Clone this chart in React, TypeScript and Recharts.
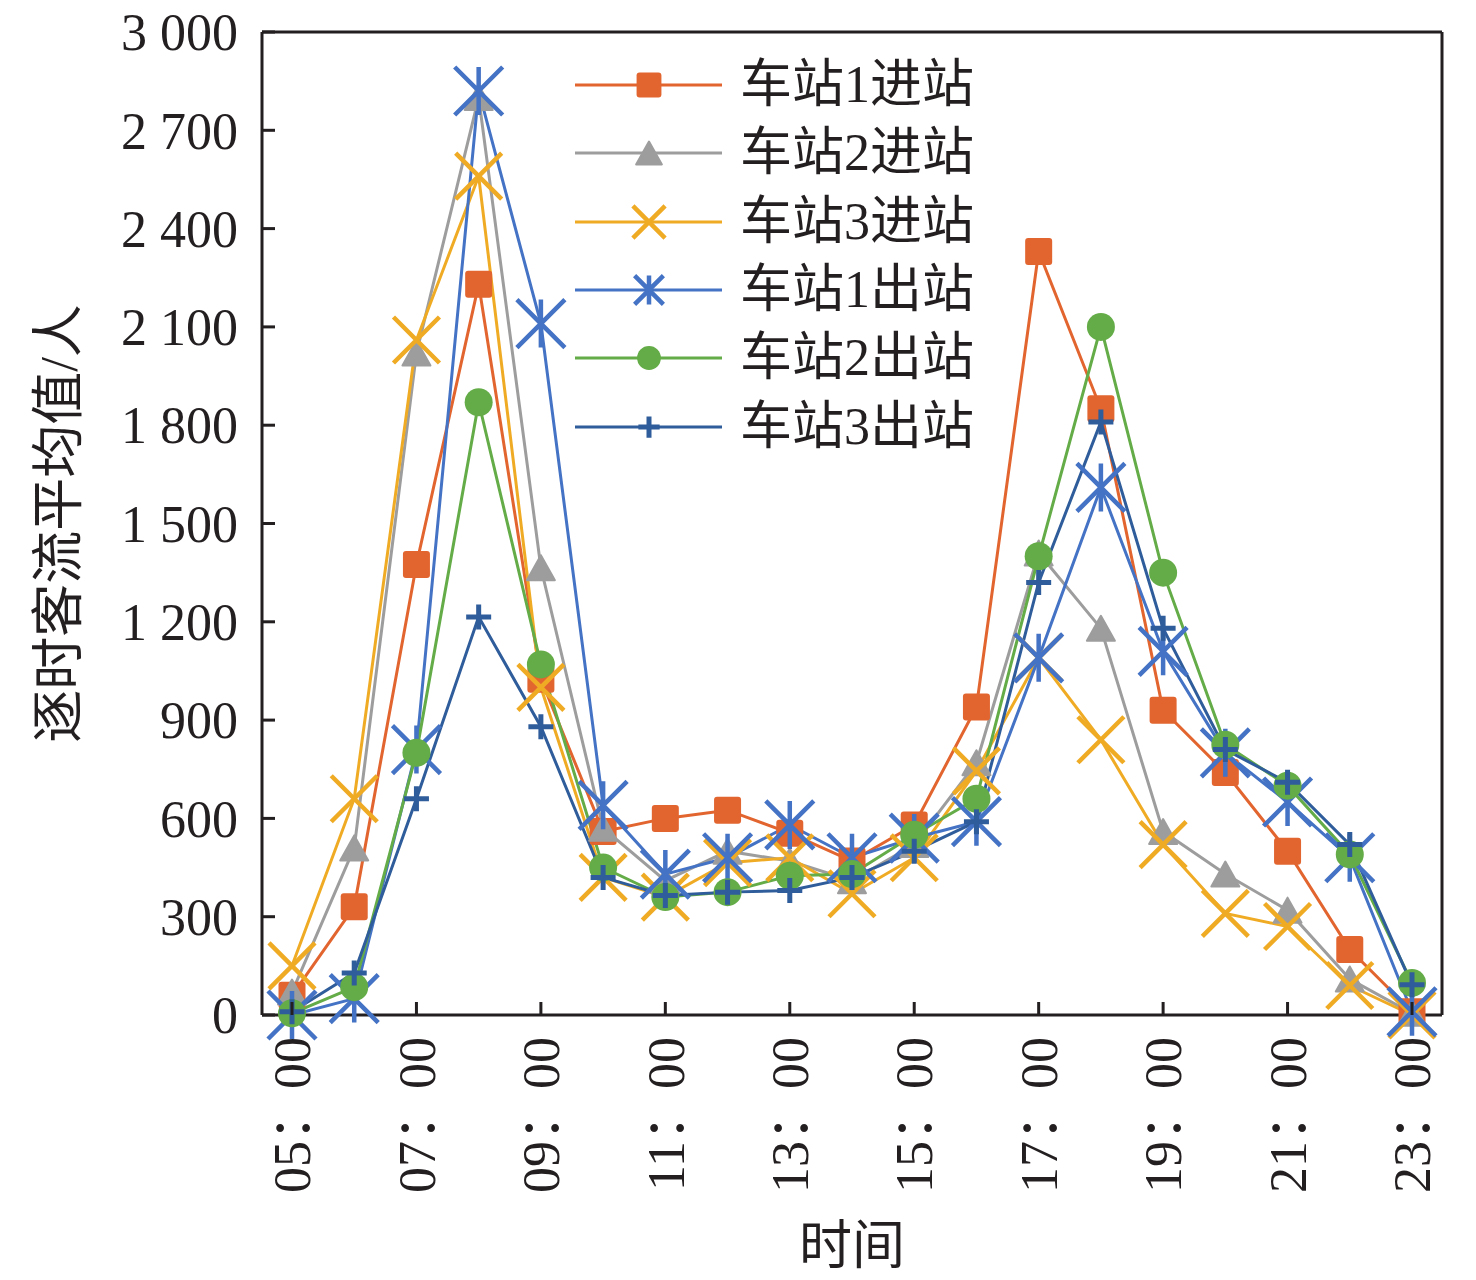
import React from 'react'
import { LineChart, Line, XAxis, YAxis, Legend } from 'recharts'

// hourly categories, 05:00 .. 23:00
const hours = [
  '05：00', '06：00', '07：00', '08：00', '09：00', '10：00', '11：00', '12：00', '13：00', '14：00',
  '15：00', '16：00', '17：00', '18：00', '19：00', '20：00', '21：00', '22：00', '23：00',
]

// 进站
const in1 = [60, 330, 1375, 2230, 1025, 560, 600, 625, 555, 470, 580, 940, 2330, 1850, 930, 740, 500, 200, 10]
const in2 = [70, 510, 2020, 2800, 1365, 570, 410, 500, 470, 410, 520, 770, 1410, 1180, 560, 430, 320, 110, 5]
const in3 = [150, 660, 2060, 2560, 1000, 420, 360, 465, 480, 370, 480, 745, 1090, 840, 520, 310, 270, 90, 0]
// 出站
const out1 = [0, 50, 810, 2820, 2110, 640, 430, 480, 580, 480, 540, 590, 1090, 1610, 1110, 800, 650, 480, 10]
const out2 = [5, 85, 800, 1870, 1070, 450, 360, 375, 425, 430, 550, 660, 1400, 2100, 1350, 825, 700, 490, 98]
const out3 = [10, 128, 660, 1215, 880, 420, 365, 375, 380, 420, 500, 590, 1320, 1810, 1180, 810, 710, 520, 92]

const yTicks = [0, 300, 600, 900, 1200, 1500, 1800, 2100, 2400, 2700, 3000]

type Shape = 'square' | 'triangle' | 'x' | 'star' | 'circle' | 'plus'

const series: { key: string; name: string; color: string; shape: Shape; values: number[] }[] = [
  { key: 'in1', name: '车站1进站', color: '#E2652F', shape: 'square', values: in1 },
  { key: 'in2', name: '车站2进站', color: '#9D9D9D', shape: 'triangle', values: in2 },
  { key: 'in3', name: '车站3进站', color: '#F0AB25', shape: 'x', values: in3 },
  { key: 'out1', name: '车站1出站', color: '#4472C4', shape: 'star', values: out1 },
  { key: 'out2', name: '车站2出站', color: '#64AC47', shape: 'circle', values: out2 },
  { key: 'out3', name: '车站3出站', color: '#2F5C9A', shape: 'plus', values: out3 },
]

const data = hours.map((hour, i) => {
  const row: Record<string, string | number> = { hour }
  series.forEach(s => { row[s.key] = s.values[i] })
  return row
})

const INK = '#231f20'
const FONT = "'Liberation Serif', 'Noto Sans CJK SC', serif"
const W = 1476, H = 1280
// top/right frame axes take 1px each (an axis of size 0 is not drawn)
const M = { top: 31, right: 33, left: 0, bottom: 0 }
const Y_W = 262, X_H = 265
const PLOT_LEFT = M.left + Y_W
const PLOT_BOTTOM = H - M.bottom - X_H

const fmtY = (v: number) => v >= 1000 ? `${Math.floor(v / 1000)} ${String(v % 1000).padStart(3, '0')}` : String(v)

function Marker({ shape, color, cx, cy, s = 1 }: { shape: Shape; color: string; cx: number; cy: number; s?: number }) {
  if (cx == null || cy == null) return null
  switch (shape) {
    case 'square':
      return <rect x={cx - 13.5 * s} y={cy - 13.5 * s} width={27 * s} height={27 * s} rx={3} fill={color} />
    case 'triangle': {
      const h = 12.5 * s, w = 14 * s
      return <polygon points={`${cx},${cy - h} ${cx + w},${cy + h} ${cx - w},${cy + h}`} fill={color} stroke={color} strokeWidth={2} strokeLinejoin="round" />
    }
    case 'x': {
      const d = 23 * s
      return <path d={`M${cx - d},${cy - d}L${cx + d},${cy + d}M${cx - d},${cy + d}L${cx + d},${cy - d}`} stroke={color} strokeWidth={4.5} fill="none" />
    }
    case 'star': {
      const d = 24 * s
      return <path d={`M${cx - d},${cy - d}L${cx + d},${cy + d}M${cx - d},${cy + d}L${cx + d},${cy - d}M${cx},${cy - d}L${cx},${cy + d}`} stroke={color} strokeWidth={4.5} fill="none" />
    }
    case 'circle':
      return <circle cx={cx} cy={cy} r={14 * s} fill={color} />
    case 'plus': {
      const d = 12.5 * s
      return <path d={`M${cx - d},${cy}L${cx + d},${cy}M${cx},${cy - d}L${cx},${cy + d}`} stroke={color} strokeWidth={5} fill="none" />
    }
  }
  return null
}

const XTick = ({ x, payload }: any) => (
  <g>
    <line x1={x} x2={x} y1={PLOT_BOTTOM} y2={PLOT_BOTTOM - 13} stroke={INK} strokeWidth={3} />
    <text transform={`translate(${x},${PLOT_BOTTOM + 22}) rotate(-90)`} textAnchor="end" dy="0.35em"
      fontFamily={FONT} fontSize={52} fill={INK}>{payload.value}</text>
  </g>
)

const YTick = ({ y, payload }: any) => (
  <g>
    <line x1={PLOT_LEFT} x2={PLOT_LEFT + 13} y1={y} y2={y} stroke={INK} strokeWidth={3} />
    <text x={PLOT_LEFT - 24} y={y} dy="0.35em" textAnchor="end" fontFamily={FONT} fontSize={52} fill={INK}>{fmtY(payload.value)}</text>
  </g>
)

const YTitle = ({ viewBox }: any) => {
  const cx = viewBox.x + 58, cy = viewBox.y + viewBox.height / 2
  return <text transform={`translate(${cx},${cy}) rotate(-90)`} textAnchor="middle" dy="0.35em"
    fontFamily={FONT} fontSize={53} fill={INK}>逐时客流平均值/人</text>
}

const XTitle = ({ viewBox }: any) => (
  <text x={viewBox.x + viewBox.width / 2} y={viewBox.y + 230} dy="0.35em" textAnchor="middle"
    fontFamily={FONT} fontSize={53} fill={INK}>时间</text>
)

const legendScale: Record<Shape, number> = { square: 0.92, triangle: 0.92, x: 0.7, star: 0.6, circle: 0.85, plus: 0.85 }

const renderLegend = () => (
  <div style={{ fontFamily: FONT, fontSize: 52, color: INK }}>
    {series.map(s => (
      <div key={s.key} style={{ display: 'flex', alignItems: 'center', height: 68.3 }}>
        <svg width={170} height={68} style={{ flex: 'none' }}>
          <line x1={5} x2={152} y1={34} y2={34} stroke={s.color} strokeWidth={3} />
          <Marker shape={s.shape} color={s.color} cx={79} cy={34} s={legendScale[s.shape]} />
        </svg>
        <span style={{ lineHeight: 1, whiteSpace: 'nowrap' }}>{s.name}</span>
      </div>
    ))}
  </div>
)

export default function App() {
  return (
    <div style={{ position: 'absolute', left: 0, top: 0, background: '#fff' }}>
      <LineChart width={W} height={H} data={data} margin={M}>
        <XAxis dataKey="hour" interval={1} height={X_H} tick={<XTick />} tickLine={false}
          axisLine={{ stroke: INK, strokeWidth: 3 }} padding={{ left: 30, right: 30 }} label={<XTitle />} />
        <YAxis domain={[0, 3000]} ticks={yTicks} interval={0} width={Y_W} tick={<YTick />} tickLine={false}
          axisLine={{ stroke: INK, strokeWidth: 3 }} label={<YTitle />} />
        <XAxis xAxisId="top" dataKey="hour" orientation="top" height={1} tick={false} tickLine={false}
          axisLine={{ stroke: INK, strokeWidth: 3 }} />
        <YAxis yAxisId="right" orientation="right" type="number" domain={[0, 3000]} width={1} tick={false} tickLine={false}
          axisLine={{ stroke: INK, strokeWidth: 3 }} />
        <Legend layout="vertical" align="center" verticalAlign="middle" content={renderLegend}
          wrapperStyle={{ left: 570, top: 51, width: 'auto' }} />
        {series.map(s => (
          <Line key={s.key} dataKey={s.key} name={s.name} type="linear" stroke={s.color} strokeWidth={3}
            isAnimationActive={false} activeDot={false}
            dot={(p: any) => <Marker key={`${s.key}-${p.index}`} shape={s.shape} color={s.color} cx={p.cx} cy={p.cy} />} />
        ))}
      </LineChart>
    </div>
  )
}
